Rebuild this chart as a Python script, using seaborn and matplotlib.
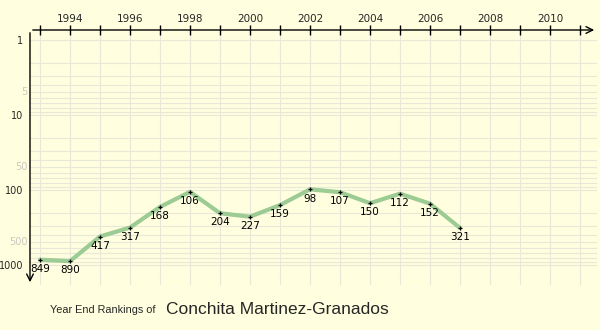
import matplotlib
matplotlib.use("Agg")
import matplotlib.pyplot as plt
import seaborn as sns
import pandas as pd
import numpy as np
from matplotlib.ticker import FixedLocator, NullFormatter

years = [1993, 1994, 1995, 1996, 1997, 1998, 1999, 2000, 2001, 2002, 2003, 2004, 2005, 2006, 2007]
ranks = [849, 890, 417, 317, 168, 106, 204, 227, 159, 98, 107, 150, 112, 152, 321]
year_ticks = list(range(1993, 2012))
year_labels = [str(y) if y % 2 == 0 else "" for y in year_ticks]
rank_major = [1, 10, 100, 1000]
rank_minor_labels = [5, 50, 500]
player = "Conchita Martinez-Granados"

sns.set_style("white")
plt.rcParams['font.family'] = ['DejaVu Sans']

bg = "#ffffdf"
fig = plt.figure(figsize=(6, 3.3), dpi=100, facecolor=bg)
ax = fig.add_axes([30/600, 1-285/330, 567/600, 255/330])
ax.set_facecolor(bg)

ax.set_yscale("log")
x0 = 1993 - 10/30
x1 = 1993 + 557/30
ax.set_xlim(x0, x1)
ax.set_ylim(10 ** ((285 - 40) / 75), 10 ** (-10 / 75))

# grid
grid_c = "#e8e8d8"
for y in year_ticks:
    ax.axvline(y, color=grid_c, lw=0.8, zorder=0)
for d in [1, 10, 100, 1000]:
    for m in range(1, 10):
        v = d * m
        if v <= 1800:
            ax.axhline(v, color=grid_c, lw=0.8, zorder=0)

df = pd.DataFrame({"year": years, "rank": ranks})
sns.lineplot(data=df, x="year", y="rank", ax=ax, color="#9ccb94", lw=3, zorder=2)
ax.scatter(years, ranks, marker="+", color="black", s=9, lw=0.9, zorder=3)
for x, r in zip(years, ranks):
    ax.annotate(str(r), (x, r), xytext=(0, -3), textcoords="offset points",
                ha="center", va="top", fontsize=7.5, color="black", zorder=4)

ax.set_xlabel("")
ax.set_ylabel("")
for s in ax.spines.values():
    s.set_visible(False)

# top x axis
ax.xaxis.tick_top()
ax.set_xticks(year_ticks)
ax.set_xticklabels(year_labels, fontsize=7.5)
ax.tick_params(axis="x", which="major", direction="inout", length=7, width=1, color="black", pad=1)
ax.annotate("", xy=(1, 1), xycoords="axes fraction", xytext=(0, 1),
            arrowprops=dict(arrowstyle="->", color="black", lw=1, mutation_scale=12))
# left y axis
ax.yaxis.set_major_locator(FixedLocator(rank_major))
ax.set_yticklabels([str(v) for v in rank_major], fontsize=7)
ax.yaxis.set_minor_locator(FixedLocator([]))
ax.yaxis.set_minor_formatter(NullFormatter())
ax.tick_params(axis="y", which="major", direction="inout", length=10, width=1, color="black", pad=0)
for v in rank_minor_labels:
    ax.text(-0.004, v, str(v), transform=ax.get_yaxis_transform(), ha="right", va="center",
            fontsize=7, color="#c8c8c0")
ax.annotate("", xy=(0, 0), xycoords="axes fraction", xytext=(0, 1),
            arrowprops=dict(arrowstyle="->", color="black", lw=1, mutation_scale=12))

fig.text(50/600, 1-310/330, "Year End Rankings of", fontsize=7.8, family=["Liberation Sans"], va="center", ha="left")
fig.text(166/600, 1-309/330, player, fontsize=12.5, family=["Liberation Sans"], va="center", ha="left")

fig.savefig("out.png", dpi=100, facecolor=bg)
